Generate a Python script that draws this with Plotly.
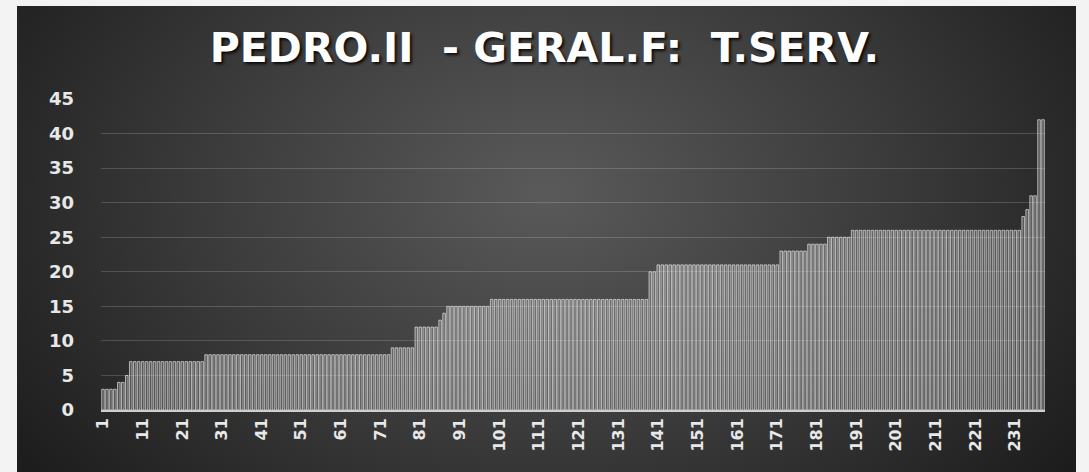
import base64
import plotly.graph_objects as go

# ---- data ----
title_text = "PEDRO.II\u00a0\u00a0- GERAL.F:\u00a0\u00a0T.SERV."

categories = list(range(1, 239))

values = [
    3, 3, 3, 3, 4, 4, 5, 7, 7, 7,            # 1-10
    7, 7, 7, 7, 7, 7, 7, 7, 7, 7,            # 11-20
    7, 7, 7, 7, 7, 7, 8, 8, 8, 8,            # 21-30
    8, 8, 8, 8, 8, 8, 8, 8, 8, 8,            # 31-40
    8, 8, 8, 8, 8, 8, 8, 8, 8, 8,            # 41-50
    8, 8, 8, 8, 8, 8, 8, 8, 8, 8,            # 51-60
    8, 8, 8, 8, 8, 8, 8, 8, 8, 8,            # 61-70
    8, 8, 8, 9, 9, 9, 9, 9, 9, 12,           # 71-80
    12, 12, 12, 12, 12, 13, 14, 15, 15, 15,  # 81-90
    15, 15, 15, 15, 15, 15, 15, 15, 16, 16,  # 91-100
    16, 16, 16, 16, 16, 16, 16, 16, 16, 16,  # 101-110
    16, 16, 16, 16, 16, 16, 16, 16, 16, 16,  # 111-120
    16, 16, 16, 16, 16, 16, 16, 16, 16, 16,  # 121-130
    16, 16, 16, 16, 16, 16, 16, 16, 20, 20,  # 131-140
    21, 21, 21, 21, 21, 21, 21, 21, 21, 21,  # 141-150
    21, 21, 21, 21, 21, 21, 21, 21, 21, 21,  # 151-160
    21, 21, 21, 21, 21, 21, 21, 21, 21, 21,  # 161-170
    21, 23, 23, 23, 23, 23, 23, 23, 24, 24,  # 171-180
    24, 24, 24, 25, 25, 25, 25, 25, 25, 26,  # 181-190
    26, 26, 26, 26, 26, 26, 26, 26, 26, 26,  # 191-200
    26, 26, 26, 26, 26, 26, 26, 26, 26, 26,  # 201-210
    26, 26, 26, 26, 26, 26, 26, 26, 26, 26,  # 211-220
    26, 26, 26, 26, 26, 26, 26, 26, 26, 26,  # 221-230
    26, 26, 28, 29, 31, 31, 42, 42,          # 231-238
]

x_tick_values = [1, 11, 21, 31, 41, 51, 61, 71, 81, 91, 101, 111, 121,
                 131, 141, 151, 161, 171, 181, 191, 201, 211, 221, 231]
x_tick_labels = [str(v) for v in x_tick_values]
y_tick_values = [0, 5, 10, 15, 20, 25, 30, 35, 40, 45]

# ---- layout geometry ----
W, H = 1089, 472
ML, MR, MT, MB = 101, 44, 99, 62
PW, PH = W - ML - MR, H - MT - MB

# dark card with radial gradient (as SVG image)
card_x0, card_x1, card_y0, card_y1 = 17, 1076, 6, 472
svg = (
    "<svg xmlns='http://www.w3.org/2000/svg' width='1059' height='466' "
    "preserveAspectRatio='none'>"
    "<defs><radialGradient id='g' cx='50%' cy='40%' r='62%' "
    "gradientTransform='translate(0.5 0.4) scale(1 1.6) translate(-0.5 -0.4)'>"
    "<stop offset='0' stop-color='#5a5a5a'/>"
    "<stop offset='0.55' stop-color='#393939'/>"
    "<stop offset='1' stop-color='#1c1c1c'/>"
    "</radialGradient></defs>"
    "<rect width='100%' height='100%' fill='url(#g)'/></svg>"
)
src = "data:image/svg+xml;base64," + base64.b64encode(svg.encode()).decode()

px = lambda x: (x - ML) / PW
py = lambda y: (H - MB - y) / PH

fig = go.Figure()
fig.add_trace(go.Bar(
    x=categories,
    y=values,
    marker=dict(color="rgba(255,255,255,0.2)",
                line=dict(color="rgba(240,240,240,0.65)", width=1)),
    hoverinfo="x+y",
))

fig.update_layout(
    width=W, height=H,
    margin=dict(l=ML, r=MR, t=MT, b=MB, pad=0),
    paper_bgcolor="#f3f3f3",
    plot_bgcolor="rgba(0,0,0,0)",
    bargap=0.35,
    showlegend=False,
    title=dict(
        text=title_text,
        x=0.5, xref="container", xanchor="center",
        y=1 - 48 / H, yref="container", yanchor="middle",
        font=dict(family="DejaVu Sans, sans-serif", size=41,
                  color="#ffffff", weight="bold",
                  shadow="2px 2px 3px rgba(0,0,0,0.85)"),
    ),
    images=[dict(
        source=src, xref="paper", yref="paper",
        x=px(card_x0), y=py(card_y0),
        sizex=(card_x1 - card_x0) / PW, sizey=(card_y1 - card_y0) / PH,
        xanchor="left", yanchor="top", sizing="stretch", layer="below",
    )],
    xaxis=dict(
        range=[0.5, 238.5],
        tickmode="array", tickvals=x_tick_values, ticktext=x_tick_labels,
        tickangle=-90,
        tickfont=dict(family="DejaVu Sans, sans-serif", size=16,
                      color="#e8e8e8", weight="bold"),
        showgrid=False, zeroline=False,
        showline=True, linecolor="#cfcfcf", linewidth=1.5,
        ticks="",
    ),
    yaxis=dict(
        range=[0, 45],
        tickmode="array", tickvals=y_tick_values,
        tickfont=dict(family="DejaVu Sans, sans-serif", size=18,
                      color="#e8e8e8", weight="bold"),
        showgrid=True, gridcolor="rgba(255,255,255,0.17)", gridwidth=1,
        zeroline=False, showline=False, ticks="",
        ticklabelstandoff=26,
    ),
)

fig.write_html("out.html",
               config={"displayModeBar": False},
               post_script="document.body.style.margin='0';")
